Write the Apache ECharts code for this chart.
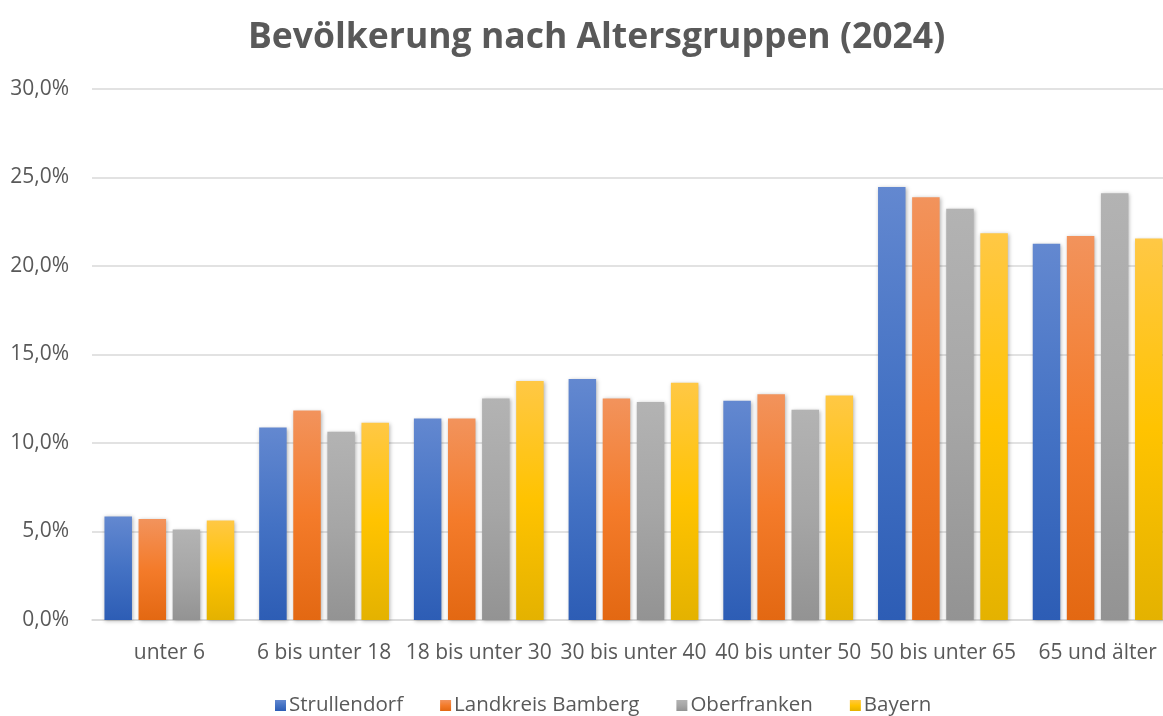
<!DOCTYPE html>
<html>
<head>
<meta charset="utf-8">
<script src="https://cdn.jsdelivr.net/npm/echarts@6/dist/echarts.min.js"></script>
<style>html,body{margin:0;padding:0;background:#fff}#c{width:1163px;height:716px}</style>
</head>
<body>
<div id="c"></div>
<script>
var categories = ['unter 6', '6 bis unter 18', '18 bis unter 30', '30 bis unter 40', '40 bis unter 50', '50 bis unter 65', '65 und älter'];
var seriesNames = ['Strullendorf', 'Landkreis Bamberg', 'Oberfranken', 'Bayern'];
var strullendorf = [5.85, 10.87, 11.38, 13.62, 12.39, 24.47, 21.26];
var landkreisBamberg = [5.70, 11.83, 11.38, 12.52, 12.75, 23.88, 21.70];
var oberfranken = [5.11, 10.64, 12.52, 12.32, 11.88, 23.24, 24.11];
var bayern = [5.62, 11.15, 13.50, 13.41, 12.68, 21.85, 21.55];
var yTicks = [0, 5, 10, 15, 20, 25, 30];

var values = [strullendorf, landkreisBamberg, oberfranken, bayern];
var baseColors = ['#4472c4', '#ed7d31', '#a5a5a5', '#ffc000'];
var gradStops = [
  ['#6388d0', '#4472c4', '#2d5db5'],
  ['#f2935c', '#f47b2a', '#e36812'],
  ['#b3b3b3', '#a6a6a6', '#939393'],
  ['#ffc845', '#ffc300', '#e4b200']
];
var font = '"Open Sans", "Noto Sans", sans-serif';
var chart = echarts.init(document.getElementById('c'), null, {renderer: 'canvas'});
var series = values.map(function (v, i) {
  return {
    name: seriesNames[i],
    type: 'bar',
    data: v,
    barWidth: 27.5,
    barGap: '24%',
    itemStyle: {
      color: new echarts.graphic.LinearGradient(0, 0, 0, 1, [
        {offset: 0, color: gradStops[i][0]},
        {offset: 0.5, color: gradStops[i][1]},
        {offset: 1, color: gradStops[i][2]}
      ]),
      shadowBlur: 4,
      shadowColor: 'rgba(0,0,0,0.3)',
      shadowOffsetX: 1,
      shadowOffsetY: 1
    },
    emphasis: {disabled: true}
  };
});
chart.setOption({
  animation: false,
  backgroundColor: '#fff',
  color: baseColors,
  title: {
    text: 'Bevölkerung nach Altersgruppen (2024)',
    left: 243,
    top: 15,
    textStyle: {fontFamily: font, fontSize: 35.5, fontWeight: 'bold', color: '#595959'}
  },
  legend: {
    bottom: -5,
    left: 270,
    itemWidth: 11,
    itemHeight: 11,
    itemGap: 37,
    icon: 'rect',
    textStyle: {fontFamily: font, fontSize: 20.5, color: '#595959', padding: [0, 0, 0, -2]},
    data: seriesNames
  },
  grid: {left: 92, right: -12, top: 89, bottom: 96, containLabel: false, outerBoundsMode: 'none'},
  xAxis: {
    type: 'category',
    data: categories,
    axisLine: {lineStyle: {color: '#d9d9d9', width: 1.5}},
    axisTick: {show: false},
    axisLabel: {fontFamily: font, fontSize: 21, color: '#595959', margin: 23, interval: 0}
  },
  yAxis: {
    type: 'value',
    min: yTicks[0],
    max: yTicks[yTicks.length - 1],
    interval: 5,
    axisLine: {show: false},
    axisTick: {show: false},
    splitLine: {lineStyle: {color: '#d9d9d9', width: 1.5}},
    axisLabel: {
      fontFamily: font, fontSize: 21, color: '#595959', margin: 23,
      formatter: function (v) { return v.toFixed(1).replace('.', ',') + '%'; }
    }
  },
  series: series
});
</script>
</body>
</html>
